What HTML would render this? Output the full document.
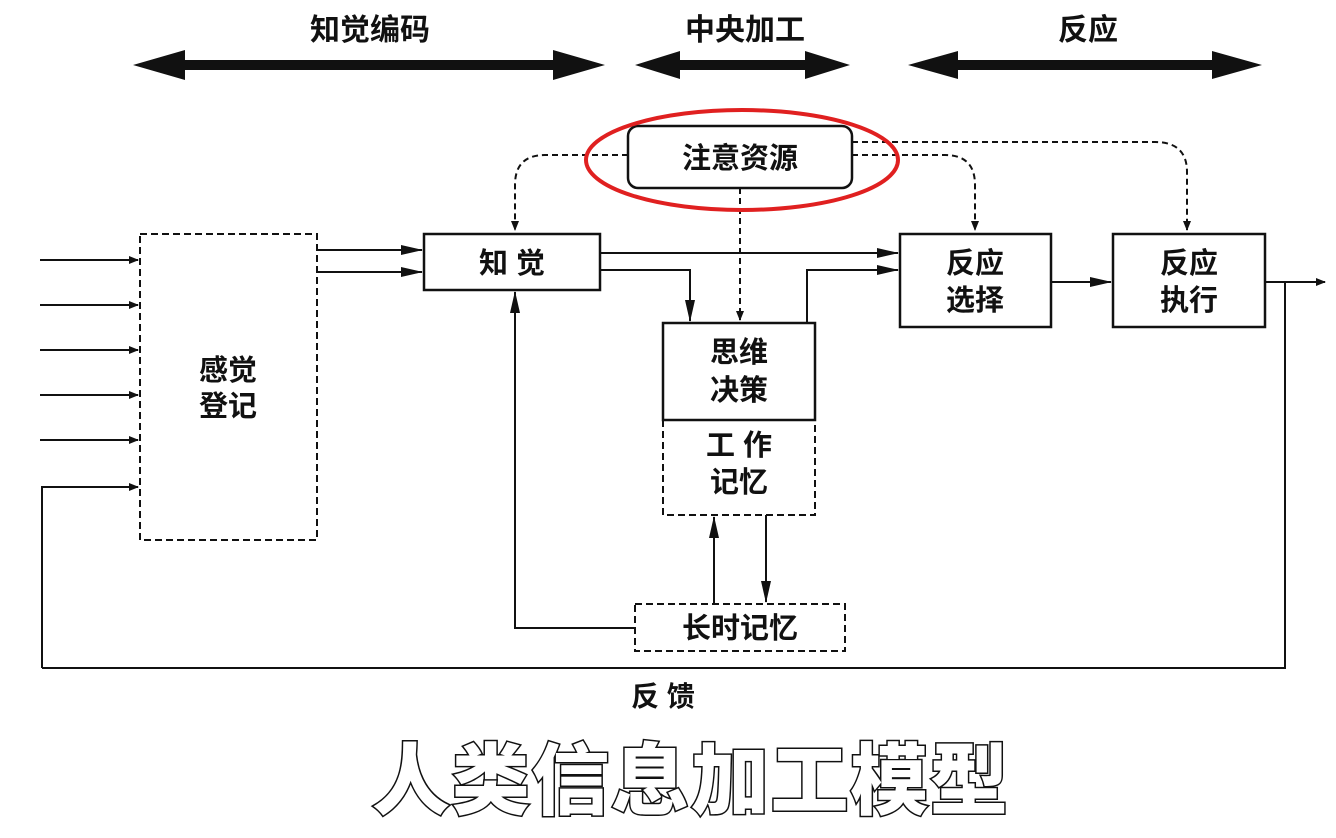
<!DOCTYPE html>
<html><head><meta charset="utf-8"><style>
html,body{margin:0;padding:0;background:#fff;}
svg{display:block}
text{font-family:"Liberation Sans","Noto Sans CJK SC",sans-serif;font-weight:bold;fill:#111}
</style></head><body>
<svg width="1336" height="838" viewBox="0 0 1336 838" xmlns="http://www.w3.org/2000/svg">
<defs>
<marker id="a" markerWidth="10" markerHeight="8" refX="9" refY="4" orient="auto" markerUnits="userSpaceOnUse" viewBox="0 0 10 8">
<path d="M0,0 L10,4 L0,8 z" fill="#111"/></marker>
<marker id="b" markerWidth="22" markerHeight="10" refX="21" refY="5" orient="auto" markerUnits="userSpaceOnUse" viewBox="0 0 22 10">
<path d="M0,0 L22,5 L0,10 z" fill="#111"/></marker>
</defs>
<!-- top labels -->
<text x="370" y="40" font-size="30" text-anchor="middle">知觉编码</text>
<text x="745" y="40" font-size="30" text-anchor="middle">中央加工</text>
<text x="1088" y="40" font-size="30" text-anchor="middle">反应</text>
<!-- double arrows -->
<g fill="#111">
<path d="M133,65 L185,50 L185,60 L553,60 L553,50 L605,65 L553,80 L553,70 L185,70 L185,80 z"/>
<path d="M635,65 L680,51 L680,60 L805,60 L805,51 L850,65 L805,79 L805,70 L680,70 L680,79 z"/>
<path d="M908,65 L958,51 L958,60 L1212,60 L1212,51 L1262,65 L1212,79 L1212,70 L958,70 L958,79 z"/>
</g>
<g stroke="#111" stroke-width="2.5" fill="none">
<!-- attention box -->
<rect x="628" y="126" width="224" height="62" rx="10" fill="#fff"/>
<!-- dashed attention lines -->
<g stroke-dasharray="6,4" stroke-width="2">
<path d="M628,155 L545,155 Q515,155 515,185 L515,230" marker-end="url(#a)"/>
<path d="M852,155 L945,155 Q975,155 975,185 L975,230" marker-end="url(#a)"/>
<path d="M852,142 L1155,142 Q1187,142 1187,172 L1187,230" marker-end="url(#a)"/>
<path d="M740,188 L740,320" marker-end="url(#a)"/>
</g>
<!-- boxes -->
<rect x="140" y="234" width="177" height="306" stroke-dasharray="7,4" stroke-width="2"/>
<rect x="424" y="234" width="176" height="56"/>
<rect x="663" y="323" width="152" height="97"/>
<path d="M663,420 L663,515 L815,515 L815,420" stroke-dasharray="7,4" stroke-width="2"/>
<rect x="900" y="234" width="151" height="93"/>
<rect x="1113" y="234" width="152" height="93"/>
<rect x="635" y="604" width="210" height="47" stroke-dasharray="7,4" stroke-width="2"/>
<!-- input arrows -->
<g stroke-width="2">
<path d="M40,260 L138,260" marker-end="url(#a)"/>
<path d="M40,305 L138,305" marker-end="url(#a)"/>
<path d="M40,350 L138,350" marker-end="url(#a)"/>
<path d="M40,395 L138,395" marker-end="url(#a)"/>
<path d="M40,440 L138,440" marker-end="url(#a)"/>
<path d="M42,668 L42,487 L138,487" marker-end="url(#a)"/>
<path d="M42,668 L1285,668 L1285,282"/>
<path d="M1265,282 L1325,282" marker-end="url(#a)"/>
<path d="M317,250 L422,250" marker-end="url(#b)"/>
<path d="M317,272 L422,272" marker-end="url(#b)"/>
<path d="M600,253 L898,253" marker-end="url(#b)"/>
<path d="M600,270 L690,270 L690,321" marker-end="url(#b)"/>
<path d="M807,323 L807,270 L898,270" marker-end="url(#b)"/>
<path d="M1051,282 L1111,282" marker-end="url(#b)"/>
<path d="M714,604 L714,517" marker-end="url(#b)"/>
<path d="M766,515 L766,602" marker-end="url(#b)"/>
<path d="M635,628 L515,628 L515,292" marker-end="url(#b)"/>
</g>
</g>
<!-- red ellipse -->
<ellipse cx="742" cy="160" rx="156" ry="50" fill="none" stroke="#e02020" stroke-width="4"/>
<!-- box texts -->
<text x="740" y="168" font-size="29" text-anchor="middle">注意资源</text>
<text x="228" y="380" font-size="29" text-anchor="middle">感觉</text>
<text x="228" y="416" font-size="29" text-anchor="middle">登记</text>
<text x="512" y="273" font-size="29" text-anchor="middle">知  觉</text>
<text x="739" y="362" font-size="29" text-anchor="middle">思维</text>
<text x="739" y="400" font-size="29" text-anchor="middle">决策</text>
<text x="739" y="455" font-size="29" text-anchor="middle">工 作</text>
<text x="739" y="492" font-size="29" text-anchor="middle">记忆</text>
<text x="975" y="273" font-size="29" text-anchor="middle">反应</text>
<text x="975" y="310" font-size="29" text-anchor="middle">选择</text>
<text x="1189" y="273" font-size="29" text-anchor="middle">反应</text>
<text x="1189" y="310" font-size="29" text-anchor="middle">执行</text>
<text x="740" y="638" font-size="29" text-anchor="middle">长时记忆</text>
<text x="663" y="706" font-size="28" text-anchor="middle">反 馈</text>
<text x="690" y="808" font-size="78" text-anchor="middle" style="fill:#fff;stroke:#111;stroke-width:3;paint-order:stroke;font-weight:900" textLength="636">人类信息加工模型</text>
</svg>
</body></html>
